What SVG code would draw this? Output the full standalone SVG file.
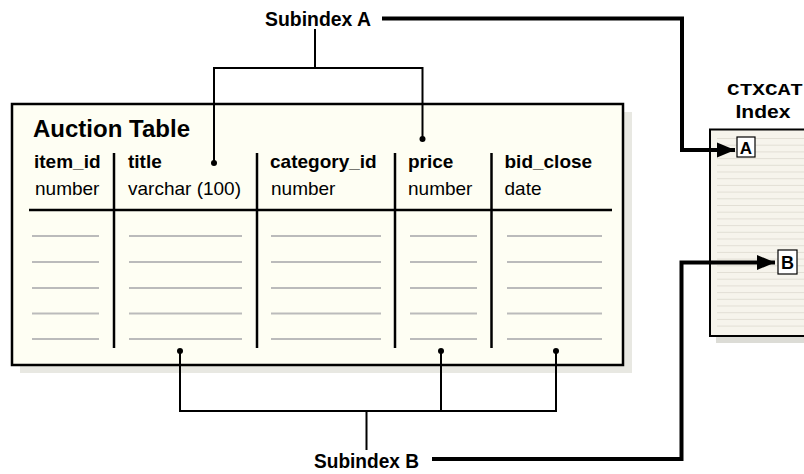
<svg xmlns="http://www.w3.org/2000/svg" width="804" height="474" viewBox="0 0 804 474">
  <defs>
    <style>
      .lbl { font-family: "Liberation Sans", Arial, sans-serif; font-weight: bold; font-size: 21px; fill: #000; }
      .hdr { font-family: "Liberation Sans", Arial, sans-serif; font-weight: bold; font-size: 19px; fill: #000; }
      .typ { font-family: "Liberation Sans", Arial, sans-serif; font-size: 19px; fill: #000; }
      .row { stroke: #bbbbbb; stroke-width: 2; }
      .div { stroke: #000; stroke-width: 2.5; fill: none; }
      .thin { stroke: #000; stroke-width: 2; fill: none; }
      .thick { stroke: #000; stroke-width: 4; fill: none; }
      .ixl { stroke: #e2dfd5; stroke-width: 1; }
    </style>
    <marker id="ah" markerUnits="userSpaceOnUse" markerWidth="19" markerHeight="16" refX="18" refY="8" orient="auto">
      <path d="M0,0.5 L18,8 L0,15.5 z" fill="#000"/>
    </marker>
  </defs>

  <rect width="804" height="474" fill="#fff"/>

  <!-- Auction table -->
  <g id="auction-table">
    <rect x="20" y="112" width="612" height="261" fill="#e8e8e2"/>
    <rect x="12" y="104" width="611" height="261" fill="#fefef3" stroke="#000" stroke-width="2.5"/>
    <text x="33" y="137" class="hdr" style="font-size:23px" textLength="157" lengthAdjust="spacingAndGlyphs">Auction Table</text>
    <text x="34" y="168" class="hdr">item_id</text>
    <text x="35" y="195" class="typ">number</text>
    <text x="128" y="168" class="hdr">title</text>
    <text x="128" y="195" class="typ">varchar (100)</text>
    <text x="270" y="168" class="hdr">category_id</text>
    <text x="271" y="195" class="typ">number</text>
    <text x="408" y="168" class="hdr">price</text>
    <text x="408" y="195" class="typ">number</text>
    <text x="504.5" y="168" class="hdr">bid_close</text>
    <text x="504.5" y="195" class="typ">date</text>
    <line x1="29" y1="210" x2="612" y2="210" class="div"/>
    <line x1="114" y1="153" x2="114" y2="348" class="div"/>
    <line x1="257" y1="153" x2="257" y2="348" class="div"/>
    <line x1="395" y1="153" x2="395" y2="348" class="div"/>
    <line x1="491.5" y1="153" x2="491.5" y2="348" class="div"/>
    <g class="row">
      <path d="M32,236H99 M32,262H99 M32,288H99 M32,313.5H99 M32,339H99"/>
      <path d="M129,236H242 M129,262H242 M129,288H242 M129,313.5H242 M129,339H242"/>
      <path d="M271,236H381 M271,262H381 M271,288H381 M271,313.5H381 M271,339H381"/>
      <path d="M410,236H477 M410,262H477 M410,288H477 M410,313.5H477 M410,339H477"/>
      <path d="M507,236H602 M507,262H602 M507,288H602 M507,313.5H602 M507,339H602"/>
    </g>
  </g>

  <!-- CTXCAT Index -->
  <g id="ctxcat-index">
    <text x="727" y="95" font-family="'Liberation Mono', 'Courier New', monospace" font-weight="bold" font-size="16" textLength="76" lengthAdjust="spacingAndGlyphs">CTXCAT</text>
    <text x="735.5" y="118" class="hdr" textLength="55" lengthAdjust="spacingAndGlyphs">Index</text>
    <rect x="716" y="136" width="100" height="207" fill="#dcdcd6"/>
    <rect x="710" y="129.5" width="110" height="206.5" fill="#f6f4ec" stroke="#000" stroke-width="2"/>
    <g class="ixl">
      <path d="M717,138.5H804 M717,145.2H804 M717,151.9H804 M717,158.6H804 M717,165.3H804 M717,172H804 M717,178.7H804 M717,185.4H804 M717,192.1H804 M717,198.8H804 M717,205.5H804 M717,212.2H804 M717,218.9H804 M717,225.6H804 M717,232.3H804 M717,239H804 M717,245.7H804 M717,252.4H804 M717,259.1H804 M717,265.8H804 M717,272.5H804 M717,279.2H804 M717,285.9H804 M717,292.6H804 M717,299.3H804 M717,306H804 M717,312.7H804 M717,319.4H804 M717,326.1H804"/>
    </g>
  </g>

  <g id="subindex-a-box">
    <rect x="737" y="137" width="18" height="20" fill="#fff" stroke="#000" stroke-width="1.2"/>
    <text x="746" y="154" class="hdr" style="font-size:17px" text-anchor="middle">A</text>
  </g>
  <g id="subindex-b-box">
    <rect x="778" y="250" width="19" height="24" fill="#fff" stroke="#000" stroke-width="1.2"/>
    <text x="787.5" y="269" class="hdr" style="font-size:18px" text-anchor="middle">B</text>
  </g>

  <g id="subindex-a">
    <text x="265" y="26" class="lbl" textLength="106" lengthAdjust="spacingAndGlyphs">Subindex A</text>
  </g>
  <g id="subindex-b">
    <text x="314" y="468" class="lbl" textLength="105" lengthAdjust="spacingAndGlyphs">Subindex B</text>
  </g>

  <!-- connectors -->
  <g id="connectors">
    <path d="M315,29 V68 M214,163 V68 H422.5 V139" class="thin"/>
    <circle cx="214" cy="163" r="3" fill="#000"/>
    <circle cx="422.5" cy="139" r="3" fill="#000"/>
    <path d="M366.5,450 V411 M180,351 V411 H556 V351 M441,351 V411" class="thin"/>
    <circle cx="180" cy="351" r="3" fill="#000"/>
    <circle cx="441" cy="351" r="3" fill="#000"/>
    <circle cx="556" cy="351" r="3" fill="#000"/>
    <path d="M382,18.5 H682 V150 H735" class="thick" marker-end="url(#ah)"/>
    <path d="M432,459 H681.5 V262.5 H775" class="thick" marker-end="url(#ah)"/>
  </g>
</svg>
